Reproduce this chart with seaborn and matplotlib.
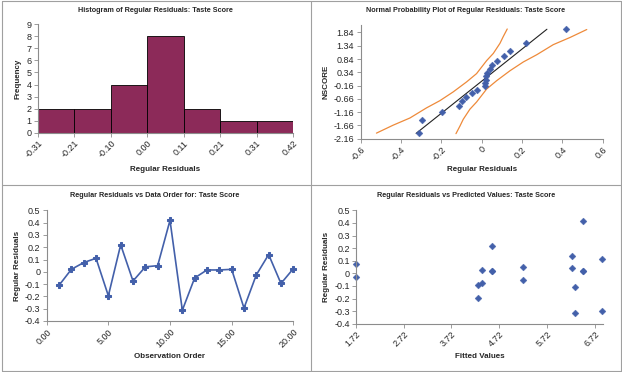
import numpy as np
import seaborn as sns
import matplotlib.pyplot as plt
from matplotlib.lines import Line2D

# regular residuals in observation order
obs_order = list(range(1, 21))
residuals = [-0.11, 0.02, 0.075, 0.11, -0.195, 0.22, -0.075, 0.04, 0.05, 0.4185,
             -0.3125, -0.05, 0.015, 0.015, 0.02, -0.295, -0.025, 0.14, -0.095, 0.025]
fitted = [6.30, 6.48, 1.72, 6.88, 4.27, 4.57, 4.37, 6.25, 5.22, 6.48,
          6.30, 5.22, 4.57, 6.48, 4.57, 6.88, 1.72, 6.25, 4.27, 4.37]

# normal scores for n = 20 (sorted residuals)
nscore = [-1.960, -1.440, -1.150, -0.935, -0.755, -0.598, -0.454, -0.319, -0.189, -0.063,
          0.063, 0.189, 0.319, 0.454, 0.598, 0.755, 0.935, 1.150, 1.440, 1.960]

# confidence band curves
band_lo_x = [-0.521, -0.438, -0.355, -0.273, -0.207, -0.141, -0.074, -0.025, 0.025, 0.058, 0.091, 0.107, 0.127]
band_lo_y = [-1.95, -1.65, -1.38, -1.00, -0.73, -0.40, -0.02, 0.29, 0.78, 1.05, 1.43, 1.68, 1.97]
band_hi_x = [-0.127, -0.107, -0.091, -0.058, -0.025, 0.025, 0.074, 0.141, 0.207, 0.273, 0.355, 0.438, 0.521]
band_hi_y = [-1.97, -1.68, -1.43, -1.05, -0.78, -0.29, 0.02, 0.40, 0.73, 1.00, 1.38, 1.65, 1.95]

nscore_ticks = [-2.16, -1.66, -1.16, -0.66, -0.16, 0.34, 0.84, 1.34, 1.84]
prob_xticks = [-0.6, -0.4, -0.2, 0, 0.2, 0.4, 0.6]
resid_ticks = [-0.4, -0.3, -0.2, -0.1, 0, 0.1, 0.2, 0.3, 0.4, 0.5]
order_ticks = [0, 5, 10, 15, 20]
fitted_ticks = [1.72, 2.72, 3.72, 4.72, 5.72, 6.72]

sns.set_style("white")
plt.rcParams['font.family'] = ['Liberation Sans', 'DejaVu Sans']

W, H = 622, 372
fig = plt.figure(figsize=(W / 100, H / 100), dpi=100)

MAROON = '#8C2A59'
BLUE = '#4360AA'
ORANGE = '#EE8A3A'
GREY = '#8C8C8C'


def px_axes(l, r, t, b):
    return fig.add_axes([l / W, 1 - b / H, (r - l) / W, (b - t) / H])


def style(ax):
    sns.despine(ax=ax)
    for s in ['left', 'bottom']:
        ax.spines[s].set_color(GREY)
        ax.spines[s].set_linewidth(0.8)
    ax.tick_params(axis='both', length=3, width=0.6, color=GREY, labelsize=6.5, pad=1.5)
    ax.tick_params(axis='x', bottom=True)
    ax.tick_params(axis='y', left=True)
    ax.set_xlabel('')
    ax.set_ylabel('')


def rot_labels(ax, labels):
    ax.set_xticklabels(labels, rotation=45, ha='right', va='top', rotation_mode='anchor')


def ftext(x, y, s, size=5.8, rot=0):
    fig.text(x / W, 1 - y / H, s, ha='center', va='center', fontsize=size,
             fontweight='bold', rotation=rot)


# Histogram
ax1 = px_axes(37.7, 293, 24.3, 132.7)
edges = np.linspace(min(residuals), max(residuals), 8)
sns.histplot(x=residuals, bins=edges, color=MAROON, alpha=1, edgecolor='black', linewidth=0.6, ax=ax1)
ax1.set_xlim(edges[0], edges[-1])
ax1.set_ylim(0, 9)
ax1.set_yticks(range(10))
ax1.set_xticks(edges)
style(ax1)
rot_labels(ax1, [f"{e:.2f}" for e in edges])
ftext(155, 10, 'Histogram of Regular Residuals: Taste Score', 5.2)
ftext(165.4, 169, 'Regular Residuals')
ftext(18.3, 78.5, 'Frequency', rot=90)

# Normal probability plot
ax2 = px_axes(360.5, 602.7, 25, 138.7)
sorted_res = np.sort(residuals)
sns.lineplot(x=band_lo_x, y=band_lo_y, sort=False, estimator=None, color=ORANGE, lw=0.9, ax=ax2)
sns.lineplot(x=band_hi_x, y=band_hi_y, sort=False, estimator=None, color=ORANGE, lw=0.9, ax=ax2)
mu, sd = np.mean(residuals), np.std(residuals, ddof=1)
z_ends = [nscore[0], nscore[-1]]
sns.lineplot(x=[mu + sd * z for z in z_ends], y=z_ends, color='#222222', lw=0.8, ax=ax2)
sns.scatterplot(x=sorted_res, y=nscore, marker='D', s=12, color=BLUE, edgecolor=BLUE,
                linewidth=0.3, ax=ax2, zorder=3, clip_on=False)
ax2.set_xlim(-0.6, 0.6)
ax2.set_ylim(-2.16, 2.12)
ax2.set_yticks(nscore_ticks)
ax2.set_yticklabels([f"{v:.2f}" for v in nscore_ticks])
ax2.set_xticks(prob_xticks)
style(ax2)
rot_labels(ax2, [f"{v:g}" for v in prob_xticks])
ftext(466, 10, 'Normal Probability Plot of Regular Residuals: Taste Score', 5.2)
ftext(481.6, 169.3, 'Regular Residuals')
ftext(326, 82, 'NSCORE', rot=90)

# Residuals vs order
ax3 = px_axes(46.7, 293.3, 210.3, 321)
sns.lineplot(x=obs_order, y=residuals, color=BLUE, lw=1.2, marker='P', markersize=4,
             markeredgecolor=BLUE, ax=ax3, clip_on=False)
ax3.set_xlim(0, 20)
ax3.set_ylim(-0.4, 0.5)
ax3.set_yticks(resid_ticks)
ax3.set_yticklabels([f"{round(v, 1):g}" for v in resid_ticks])
ax3.set_xticks(order_ticks)
style(ax3)
rot_labels(ax3, [f"{v:.2f}" for v in order_ticks])
ftext(155, 195.5, 'Regular Residuals vs Data Order for: Taste Score', 5.2)
ftext(170, 356, 'Observation Order')
ftext(18, 265.7, 'Regular Residuals', rot=90)

# Residuals vs fitted
ax4 = px_axes(356, 602.7, 210.3, 323.8)
sns.scatterplot(x=fitted, y=residuals, marker='D', s=12, color=BLUE, edgecolor=BLUE,
                linewidth=0.3, ax=ax4, clip_on=False)
ax4.set_xlim(1.72, 6.89)
ax4.set_ylim(-0.4, 0.5)
ax4.set_yticks(resid_ticks)
ax4.set_yticklabels([f"{round(v, 1):g}" for v in resid_ticks])
ax4.set_xticks(fitted_ticks)
style(ax4)
rot_labels(ax4, [f"{v:.2f}" for v in fitted_ticks])
ftext(466, 195.5, 'Regular Residuals vs Predicted Values: Taste Score', 5.2)
ftext(479.4, 356, 'Fitted Values')
ftext(326.7, 266.8, 'Regular Residuals', rot=90)

# chart borders
for (x0, y0, x1, y1) in [(1.5, 0.5, 1.5, 370.5), (620.5, 0.5, 620.5, 370.5),
                         (1.5, 0.5, 620.5, 0.5), (1.5, 370.5, 620.5, 370.5),
                         (310.7, 0.5, 310.7, 370.5), (1.5, 185, 620.5, 185)]:
    fig.add_artist(Line2D([x0 / W, x1 / W], [1 - y0 / H, 1 - y1 / H], color='#A0A0A0', lw=0.8))

fig.savefig('out.png', dpi=100)
